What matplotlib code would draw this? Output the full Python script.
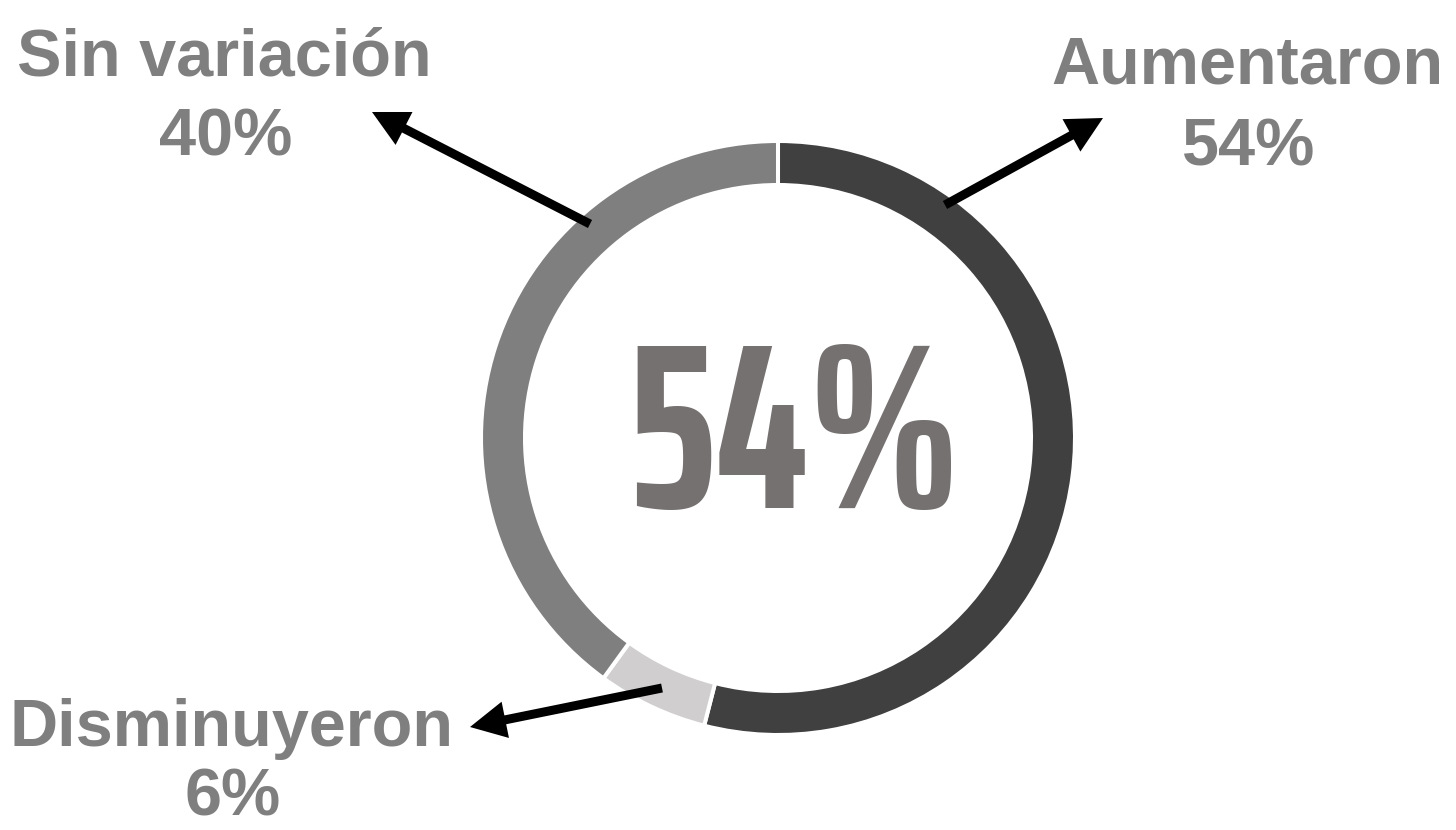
import matplotlib
matplotlib.use("Agg")
import matplotlib.pyplot as plt
from matplotlib.textpath import TextPath
from matplotlib.font_manager import FontProperties

# ---- data ----
categories = ["Aumentaron", "Disminuyeron", "Sin variación"]
values = [54, 6, 40]
colors = ["#404040", "#d0cece", "#7f7f7f"]
pct_labels = ["54%", "6%", "40%"]
center_label = "54%"

W, H = 1456, 830
DPI = 100
fig = plt.figure(figsize=(W / DPI, H / DPI), dpi=DPI)
ax = fig.add_axes([0, 0, 1, 1])


def Y(ypx):
    return H - ypx


cx, cy = 778, Y(438)
r_out = 297
ring_w = 44
ax.pie(values, colors=colors, startangle=90, counterclock=False,
       radius=r_out, center=(cx, cy), frame=True,
       wedgeprops=dict(width=ring_w, edgecolor="white", linewidth=2.9))
ax.set_xlim(0, W)
ax.set_ylim(0, H)
ax.set_aspect("equal")
ax.axis("off")

# ---- center number ----
cfp = FontProperties(family=["Saira ExtraCondensed", "DejaVu Sans"], weight=700)
tp = TextPath((0, 0), center_label, prop=cfp, size=100)
ext = tp.get_extents()
ink_h = ext.height / 100.0
target_h = 165.0
size_px = target_h / ink_h
size_pt = size_px * 72.0 / DPI
ax.text(794, Y(510) + (-ext.y0 / 100.0) * size_px, center_label,
        fontproperties=cfp, fontsize=size_pt, color="#767171",
        ha="center", va="baseline")

# ---- labels ----
lab_fs = 48
lab_col = "#7f7f7f"
# (x centre, baseline of name, baseline of percentage) in pixels from top
label_pos = {
    "Sin variación": (224, 75, 155),
    "Aumentaron": (1247, 83, 165),
    "Disminuyeron": (231, 746, 815),
}
for name, p in zip(categories, pct_labels):
    x, b1, b2 = label_pos[name]
    ax.text(x, Y(b1), name, family="Liberation Sans", weight="bold",
            fontsize=lab_fs, color=lab_col, ha="center", va="baseline")
    ax.text(x + 2, Y(b2), p, family="Liberation Sans", weight="bold",
            fontsize=lab_fs, color=lab_col, ha="center", va="baseline")

# ---- arrows (tail -> tip) ----
arrows = [((590, 224), (372, 112)),
          ((945, 205), (1103, 118)),
          ((662, 688), (470, 727))]
for (x0, y0), (x1, y1) in arrows:
    ax.arrow(x0, Y(y0), x1 - x0, Y(y1) - Y(y0), width=9, head_width=37,
             head_length=36, length_includes_head=True, fc="black", ec="none")

fig.savefig("out.png", dpi=DPI, facecolor="white")
